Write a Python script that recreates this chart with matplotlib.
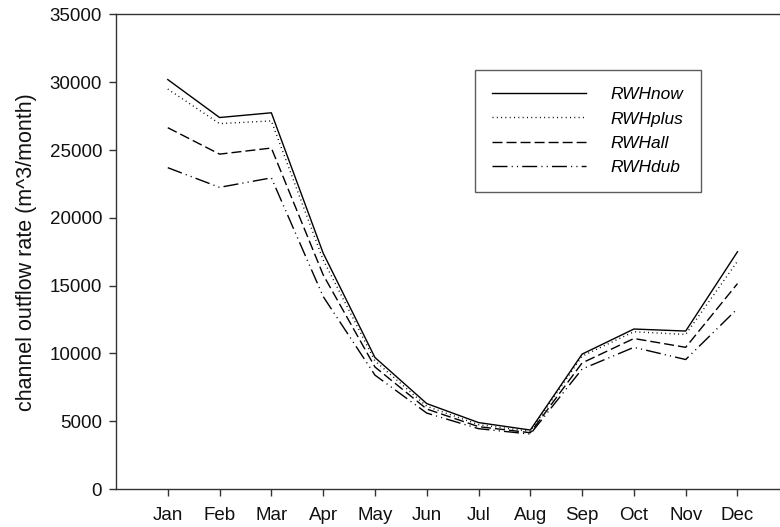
import matplotlib
matplotlib.use("Agg")
import matplotlib.pyplot as plt

plt.rcParams["font.family"] = ["Liberation Sans", "DejaVu Sans"]

months = ["Jan", "Feb", "Mar", "Apr", "May", "Jun",
          "Jul", "Aug", "Sep", "Oct", "Nov", "Dec"]
rwh_now = [30200, 27400, 27750, 17400, 9700, 6300, 4900, 4350, 9950, 11800, 11650, 17500]
rwh_plus = [29500, 26950, 27150, 16900, 9450, 6100, 4750, 4250, 9800, 11600, 11400, 16800]
rwh_all = [26650, 24700, 25150, 15800, 9000, 5900, 4600, 4150, 9300, 11100, 10450, 15150]
rwh_dub = [23700, 22250, 22950, 14200, 8400, 5600, 4450, 4050, 8850, 10450, 9550, 13300]
y_ticks = [0, 5000, 10000, 15000, 20000, 25000, 30000, 35000]

fig = plt.figure(figsize=(7.8, 5.27), dpi=100)
# axes runs a little past the right edge of the canvas
ax = fig.add_axes([0.1487, 0.0721, 0.8632, 0.9004])

x = list(range(len(months)))
ln = dict(color="black", lw=1.0)
ax.plot(x, rwh_now, ls="-", label="RWHnow", **ln)
ax.plot(x, rwh_plus, ls=(0, (0.7, 2.4)), label="RWHplus", **ln)
ax.plot(x, rwh_all, ls=(0, (7.2, 2.9)), label="RWHall", **ln)
ax.plot(x, rwh_dub, ls=(0, (10.8, 3, 0.8, 3, 0.8, 3)), label="RWHdub", **ln)

ax.set_xlim(-1, 12)
ax.set_ylim(0, 35000)
ax.set_xticks(x)
ax.set_xticklabels(months)
ax.set_yticks(y_ticks)
ax.tick_params(axis="both", labelsize=13.5, length=5, width=1, color="#333333",
               labelcolor="#111111")
ax.tick_params(axis="x", pad=8)
ax.tick_params(axis="y", pad=5)
ax.spines["right"].set_visible(False)
for s in ("left", "top", "bottom"):
    ax.spines[s].set_color("#333333")
    ax.spines[s].set_linewidth(1.0)

ax.set_ylabel("channel outflow rate (m^3/month)", fontsize=15.5, labelpad=9,
              color="#111111")

leg = ax.legend(loc="upper left", bbox_to_anchor=(475 / 780, 1 - 70 / 527),
                bbox_transform=fig.transFigure, fancybox=False, frameon=True,
                edgecolor="#333333", prop={"style": "italic", "size": 12.5},
                handlelength=5.4, handletextpad=1.45, labelspacing=0.53,
                borderpad=0.98, borderaxespad=0)
leg.get_frame().set_linewidth(1.0)

fig.savefig("out.png", dpi=100)
